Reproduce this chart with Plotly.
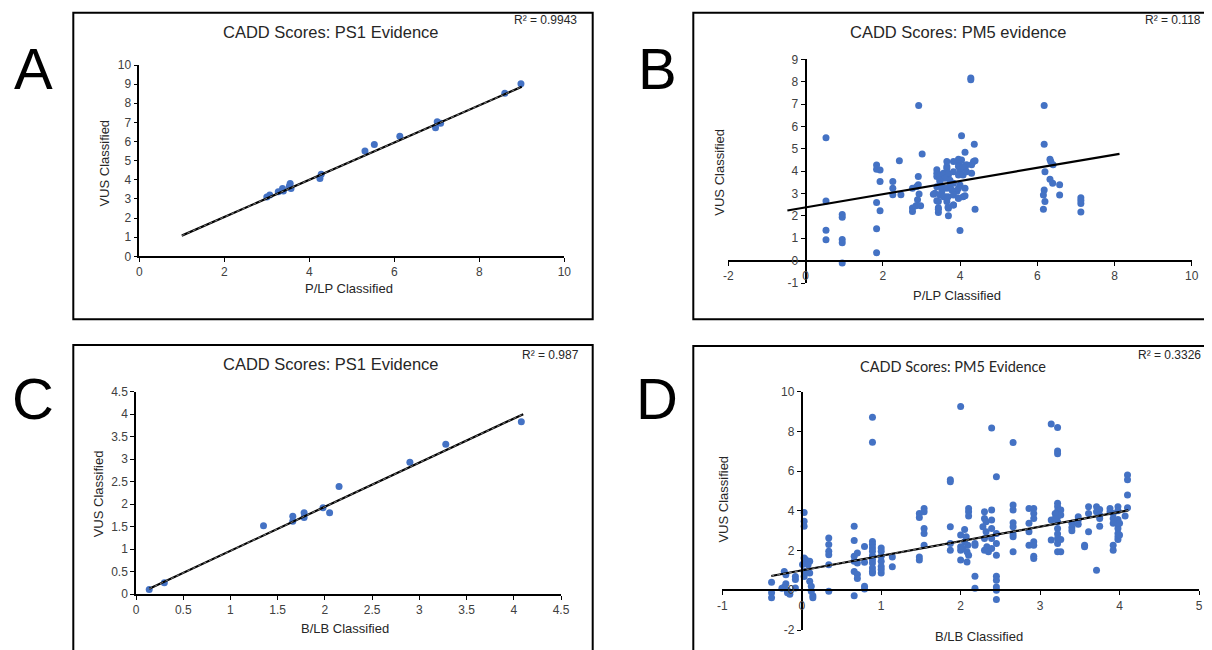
import numpy as np
import plotly.graph_objects as go

# ---------------- DATA ----------------
# Panel A: CADD Scores PS1 Evidence (P/LP vs VUS)
A_x = [3.00, 3.07, 3.27, 3.37, 3.39, 3.55, 3.57, 3.53, 4.25, 4.28, 5.31, 5.53, 6.13, 6.97, 7.01, 7.09, 8.60, 8.98]
A_y = [3.10, 3.20, 3.37, 3.54, 3.42, 3.80, 3.54, 3.66, 4.07, 4.29, 5.50, 5.85, 6.28, 6.72, 7.03, 6.95, 8.52, 9.02]
A_trend = [0.973, 0.108, 1.0, 9.0]      # slope, intercept, x start, x end
A_r2 = "R² = 0.9943"
A_xticks = [0, 2, 4, 6, 8, 10]
A_yticks = [0, 1, 2, 3, 4, 5, 6, 7, 8, 9, 10]

# Panel B: CADD Scores PM5 evidence (P/LP vs VUS)
B_x = [0.53, 0.53, 0.53, 0.53,
       0.95, 0.95, 0.95, 0.95, 0.95,
       1.84, 1.84, 1.93, 1.93, 1.84, 1.93, 1.84, 1.84,
       2.26, 2.26, 2.26, 2.43, 2.47,
       2.77, 2.77, 2.77,
       2.93, 2.92, 2.92, 2.88, 2.94, 2.90, 2.86, 2.98, 3.02,
       3.40, 3.40, 3.40, 3.35, 3.40, 3.44, 3.44, 3.48, 3.48, 3.53, 3.57, 3.61, 3.66, 3.66, 3.66, 3.70,
       3.70, 3.70, 3.74, 3.83, 3.92, 3.96, 3.96, 4.00, 4.00, 4.13, 4.13, 4.13, 4.30, 4.39, 4.35,
       4.04, 4.37, 4.13, 4.39, 4.30, 4.17, 4.04, 3.96, 3.96, 3.83, 3.69, 3.83, 4.00, 4.08, 3.61,
       3.48, 3.74, 3.96, 4.08, 4.17, 3.83, 3.40, 3.53, 3.66, 3.79, 3.96, 3.31, 3.48, 3.57, 3.69,
       3.83, 4.08, 3.44, 3.66, 3.44, 3.69, 3.83, 3.96,
       4.28, 4.28,
       6.18, 6.18, 6.33, 6.35, 6.41, 6.20, 6.33, 6.40, 6.58, 6.58, 6.18, 6.16, 6.20, 6.16,
       7.13, 7.13, 7.13, 7.13]
B_y = [5.50, 2.67, 1.36, 0.93,
       2.06, 1.94, 0.95, 0.80, -0.10,
       4.28, 4.09, 4.05, 3.54, 2.60, 2.23, 1.43, 0.35,
       3.54, 3.24, 2.95, 4.47, 2.95,
       3.24, 2.35, 2.20,
       6.94, 3.76, 3.39, 3.32, 2.98, 2.72, 2.46, 2.46, 4.77,
       4.06, 3.91, 3.76, 3.01, 2.68, 2.37, 2.15, 3.54, 3.83, 3.10, 3.91, 2.86, 4.43, 4.21, 4.13, 3.83,
       2.34, 2.01, 3.31, 2.49, 3.10, 4.36, 2.79, 1.35, 3.38, 4.13, 3.24, 2.90, 3.91, 2.30, 4.43,
       5.58, 5.21, 4.85, 4.47, 4.29, 4.29, 4.50, 4.53, 4.21, 4.43, 3.91, 3.98, 4.06, 4.21, 3.68,
       3.60, 3.60, 3.83, 3.83, 3.98, 3.46, 3.31, 3.31, 3.24, 3.16, 3.24, 2.97, 2.94, 2.86, 2.86,
       2.94, 2.86, 2.64, 2.64, 2.30, 2.39, 2.49, 2.79,
       8.17, 8.09,
       6.94, 5.21, 4.54, 4.43, 4.29, 3.98, 3.64, 3.46, 3.39, 2.94, 3.16, 2.94, 2.64, 2.30,
       2.81, 2.69, 2.56, 2.17]
B_trend = [0.295, 2.38, -0.47, 8.13]
B_r2 = "R² = 0.118"
B_xticks = [-2, 0, 2, 4, 6, 8, 10]
B_yticks = [-1, 0, 1, 2, 3, 4, 5, 6, 7, 8, 9]

# Panel C: CADD Scores PS1 Evidence (B/LB vs VUS)
C_x = [0.14, 0.30, 1.35, 1.66, 1.66, 1.78, 1.78, 1.98, 2.05, 2.15, 2.90, 3.28, 4.08]
C_y = [0.10, 0.25, 1.52, 1.73, 1.62, 1.81, 1.70, 1.92, 1.81, 2.39, 2.93, 3.33, 3.83]
C_trend = [0.981, -0.021, 0.14, 4.10]
C_r2 = "R² = 0.987"
C_xticks = [0, 0.5, 1, 1.5, 2, 2.5, 3, 3.5, 4, 4.5]
C_yticks = [0, 0.5, 1, 1.5, 2, 2.5, 3, 3.5, 4, 4.5]

# Panel D: CADD Scores PM5 Evidence (B/LB vs VUS)
D_x = [-0.38, -0.38, -0.38,
       -0.22, -0.20, -0.20, -0.22, -0.18, -0.18, -0.25, -0.15,
       -0.08, -0.08, -0.08,
       0.03, 0.03, 0.03, 0.03, 0.05, 0.10, 0.08, 0.01, 0.03, 0.10, 0.03, 0.10, 0.12, 0.12, 0.14, 0.14,
       0.34, 0.34, 0.34, 0.34, 0.34, 0.34,
       0.66, 0.66, 0.66, 0.66, 0.66, 0.66,
       0.70, 0.70, 0.70, 0.70,
       0.79, 0.79, 0.79, 0.79,
       0.89, 0.89, 0.89, 0.89, 0.89, 0.89, 0.89, 0.89, 0.89, 0.89, 0.89, 0.89,
       1.00, 1.00, 1.00, 1.00, 1.00, 1.00, 1.00,
       1.14, 1.14,
       1.48, 1.48, 1.48, 1.48,
       1.54, 1.54, 1.54, 1.54, 1.54,
       1.87, 1.87, 1.87, 1.87, 1.87,
       2.00, 2.00, 2.00, 2.00, 2.00,
       2.05, 2.07, 2.05, 2.09, 2.03, 2.08, 2.10, 2.08,
       2.10, 2.10, 2.10,
       2.18, 2.18, 2.18, 2.18,
       2.30, 2.30, 2.32, 2.28, 2.32, 2.30, 2.33, 2.30, 2.35,
       2.39, 2.39, 2.39, 2.39, 2.39, 2.39,
       2.45, 2.45, 2.45, 2.45, 2.45, 2.45, 2.45, 2.45, 2.45,
       2.66, 2.66, 2.66, 2.66, 2.66, 2.66, 2.66, 2.66,
       2.86, 2.86, 2.86, 2.86,
       2.92, 2.92, 2.92, 2.92, 2.92, 2.92, 2.92,
       3.14, 3.14, 3.14,
       3.22, 3.22, 3.22, 3.22, 3.22, 3.22, 3.22, 3.22, 3.22, 3.22, 3.22, 3.22, 3.22, 3.22,
       3.26, 3.26, 3.26, 3.26,
       3.19, 3.19,
       3.40, 3.40, 3.40,
       3.48, 3.48, 3.48,
       3.56, 3.56,
       3.61, 3.61, 3.61,
       3.71, 3.71, 3.71,
       3.75, 3.75, 3.75, 3.75,
       3.88, 3.88,
       3.92, 3.92, 3.92, 3.92, 3.92,
       3.98, 3.98, 3.98, 3.98, 3.98, 3.98, 3.98, 3.98,
       4.00, 4.00,
       4.07,
       4.10, 4.10, 4.10, 4.10]
D_y = [0.40, -0.13, -0.38,
       0.95, 0.78, 0.33, 0.17, 0.00, -0.12, 0.10, -0.20,
       0.70, 0.54, 0.12,
       3.92, 3.47, 3.22, 1.62, 1.54, 1.46, 1.29, 1.30, 0.95, 0.87, 0.70, 0.45, 0.20, -0.05, -0.27, -0.38,
       2.63, 2.30, 1.96, 1.79, 1.29, -0.05,
       3.22, 2.51, 1.71, 1.46, 0.95, -0.27,
       1.88, 1.37, 0.79, 0.59,
       2.21, 1.41, 0.20, 0.07,
       8.71, 7.45, 2.46, 2.30, 2.13, 1.96, 1.74, 1.54, 1.37, 1.12, 0.95, 0.87,
       2.13, 1.96, 1.71, 1.46, 1.20, 0.87, 1.05,
       1.68, 1.18,
       3.87, 3.67, 1.68, 1.52,
       4.12, 3.96, 3.11, 2.86, 2.27,
       5.56, 5.47, 3.20, 2.36, 2.02,
       9.26, 2.78, 2.19, 2.02, 1.52,
       3.06, 2.69, 2.44, 2.27, 2.10, 1.94, 1.77, 1.43,
       4.12, 3.96, 3.74,
       2.36, 2.27, 0.71, 0.10,
       3.96, 3.62, 3.45, 3.20, 2.95, 2.61, 2.19, 2.02, 1.94,
       8.17, 4.04, 3.54, 3.11, 2.61, 2.10,
       5.72, 2.86, 2.36, 1.77, 0.71, 0.50, 0.17, 0.00, -0.47,
       7.44, 4.29, 4.04, 3.40, 3.20, 2.83, 2.69, 1.94,
       4.12, 3.37, 2.95, 2.27,
       4.12, 3.87, 3.62, 2.44, 2.27, 1.72, 1.60,
       8.37, 2.53, 3.54,
       8.20, 7.02, 6.87, 4.38, 4.21, 3.99, 3.87, 3.70, 3.45, 3.11, 2.83, 2.61, 2.36, 1.94,
       4.04, 3.79, 2.56, 1.94,
       3.87, 3.62,
       3.37, 3.16, 3.00,
       3.70, 3.54, 3.33,
       2.27, 2.19,
       4.21, 3.87, 2.95,
       4.21, 3.96, 1.01,
       4.07, 3.79, 3.62, 3.23,
       4.12, 3.96,
       3.87, 3.62, 3.37, 2.27, 2.02,
       4.21, 4.01, 3.57, 3.33, 3.11, 2.86, 2.69, 2.56,
       3.37, 2.78,
       3.74,
       5.81, 5.56, 4.80, 4.16]
D_trend = [0.735, 1.0, -0.385, 4.11]
D_r2 = "R² = 0.3326"
D_xticks = [-1, 0, 1, 2, 3, 4, 5]
D_yticks = [-2, 0, 2, 4, 6, 8, 10]

TITLES = ["CADD Scores: PS1 Evidence", "CADD Scores: PM5 evidence",
          "CADD Scores: PS1 Evidence", "CADD Scores: PM5 Evidence"]
XTITLES = ["P/LP Classified", "P/LP Classified", "B/LB Classified", "B/LB Classified"]
YTITLE = "VUS Classified"
LETTERS = ["A", "B", "C", "D"]

# ---------------- LAYOUT HELPERS ----------------
# The page body has an 8px margin; the visible figure area is 1196 x 642 starting at (8, 8).
OFF = 8
W, H = 1212 - 2 * OFF, 650 - OFF
def fx(p):
    return (p - OFF) / W
def fy(p):
    return 1 - (p - OFF) / H

def lab(v):
    return "%g" % v

BLUE = "#4472C4"
TXT = "#404040"
FONT = "Liberation Sans, Arial, sans-serif"

panels = [
    dict(x=A_x, y=A_y, trend=A_trend, r2=A_r2, xt=A_xticks, yt=A_yticks, xdom=(139.3, 564.3), ydom=(256.3, 65.0),
         xr=[0, 10], yr=[0, 10], free=False, dotted=True,
         box=(73.3, 12.7, 592.7, 319.3), title_xy=(331, 31.5), r2_xy=(579, 20.5),
         ytl=(104.3, 163.3), xtl=(348.7, 288.3), letter=(33, 68), tfont=FONT, tsize=16.5, lw=1.5),
    dict(x=B_x, y=B_y, trend=B_trend, r2=B_r2, xt=B_xticks, yt=B_yticks, xdom=(728.3, 1191.7), ydom=(283.0, 59.4),
         xr=[-2, 10], yr=[-1, 9], free=True, dotted=False,
         box=(693.3, 12.7, 1210, 319.3), title_xy=(957.7, 31.5), r2_xy=(1203, 20.5),
         ytl=(720, 172.7), xtl=(956.8, 295.7), letter=(657, 68), tfont=FONT, tsize=16.5, lw=2),
    dict(x=C_x, y=C_y, trend=C_trend, r2=C_r2, xt=C_xticks, yt=C_yticks, xdom=(136.0, 561.0), ydom=(594.0, 391.7),
         xr=[0, 4.5], yr=[0, 4.5], free=False, dotted=True,
         box=(73.3, 345.0, 592.7, 656), title_xy=(331, 364.3), r2_xy=(580.7, 355),
         ytl=(98.3, 494), xtl=(345, 628.3), letter=(33, 398), tfont=FONT, tsize=16.5, lw=1.5),
    dict(x=D_x, y=D_y, trend=D_trend, r2=D_r2, xt=D_xticks, yt=D_yticks, xdom=(722.3, 1199.0), ydom=(630.0, 391.7),
         xr=[-1, 5], yr=[-2, 10], free=True, dotted=True,
         box=(693.3, 346.0, 1210, 656), title_xy=(953, 366.7), r2_xy=(1203, 355),
         ytl=(723.3, 499.3), xtl=(978.8, 636), letter=(657, 398), tfont="Lato, Carlito, sans-serif", tsize=14.5, lw=2),
]

fig = go.Figure()
layout = dict(width=W, height=H, autosize=False, margin=dict(l=0, r=0, t=0, b=0, pad=0),
              paper_bgcolor="white", plot_bgcolor="rgba(0,0,0,0)", showlegend=False)
shapes, annots = [], []

for i, p in enumerate(panels):
    n = "" if i == 0 else str(i + 1)
    xa, ya = "x" + n, "y" + n
    xdom = [fx(p["xdom"][0]), min(fx(p["xdom"][1]), 1.0)]
    ydom = [fy(p["ydom"][0]), fy(p["ydom"][1])]
    common = dict(showgrid=False, zeroline=False, automargin=False,
                  showline=True, linecolor="black", linewidth=p["lw"], ticks="outside", ticklen=4,
                  tickwidth=1.2, tickcolor="black", tickfont=dict(family=FONT, size=12, color=TXT),
                  fixedrange=True)
    xaxis = dict(domain=xdom, range=p["xr"], tickmode="array", tickvals=p["xt"],
                 ticktext=[lab(v) for v in p["xt"]], **common)
    yaxis = dict(domain=ydom, range=p["yr"], tickmode="array", tickvals=p["yt"],
                 ticktext=[lab(v) for v in p["yt"]], **common)
    if p["free"]:
        # axes cross at zero, positioned through each axis' own range/domain
        ypos = ydom[0] + (0 - p["yr"][0]) / (p["yr"][1] - p["yr"][0]) * (ydom[1] - ydom[0])
        xpos = xdom[0] + (0 - p["xr"][0]) / (p["xr"][1] - p["xr"][0]) * (xdom[1] - xdom[0])
        xaxis.update(anchor="free", position=ypos)
        yaxis.update(anchor="free", position=xpos)
    else:
        xaxis.update(anchor=ya)
        yaxis.update(anchor=xa)
    layout["xaxis" + n] = xaxis
    layout["yaxis" + n] = yaxis

    fig.add_trace(go.Scatter(x=p["x"], y=p["y"], mode="markers", xaxis=xa, yaxis=ya,
                             marker=dict(color=BLUE, size=7, line=dict(width=0)),
                             hoverinfo="x+y"))
    slope, icpt, t0, t1 = p["trend"]
    tx = np.array([t0, t1])
    ty = slope * tx + icpt
    fig.add_trace(go.Scatter(x=tx, y=ty, mode="lines", xaxis=xa, yaxis=ya,
                             line=dict(color="black", width=2.2), hoverinfo="skip"))
    if p["dotted"]:
        fig.add_trace(go.Scatter(x=tx, y=ty, mode="lines", xaxis=xa, yaxis=ya,
                                 line=dict(color="#8a8a8a", width=0.9, dash="dot"), hoverinfo="skip"))

    bx0, by0, bx1, by1 = p["box"]
    shapes.append(dict(type="rect", xref="paper", yref="paper", x0=fx(bx0), x1=fx(bx1),
                       y0=fy(by1), y1=fy(by0), line=dict(color="black", width=2), layer="below"))
    annots.append(dict(text=TITLES[i], x=fx(p["title_xy"][0]), y=fy(p["title_xy"][1]), xref="paper",
                       yref="paper", showarrow=False, xanchor="center", yanchor="middle",
                       font=dict(family=p["tfont"], size=p["tsize"], color="#262626")))
    annots.append(dict(text=p["r2"], x=fx(p["r2_xy"][0]), y=fy(p["r2_xy"][1]), xref="paper",
                       yref="paper", showarrow=False, xanchor="right", yanchor="middle",
                       font=dict(family=FONT, size=12, color="#262626")))
    annots.append(dict(text=YTITLE, x=fx(p["ytl"][0]), y=fy(p["ytl"][1]), xref="paper", yref="paper",
                       showarrow=False, textangle=-90, xanchor="center", yanchor="middle",
                       font=dict(family=FONT, size=13, color="#262626")))
    annots.append(dict(text=XTITLES[i], x=fx(p["xtl"][0]), y=fy(p["xtl"][1]), xref="paper",
                       yref="paper", showarrow=False, xanchor="center", yanchor="middle",
                       font=dict(family=FONT, size=13, color="#262626")))
    annots.append(dict(text=LETTERS[i], x=fx(p["letter"][0]), y=fy(p["letter"][1]), xref="paper",
                       yref="paper", showarrow=False, xanchor="center", yanchor="middle",
                       font=dict(family=FONT, size=58, color="black")))

layout["shapes"] = shapes
layout["annotations"] = annots
fig.update_layout(**layout)
fig.write_html("out.html")
